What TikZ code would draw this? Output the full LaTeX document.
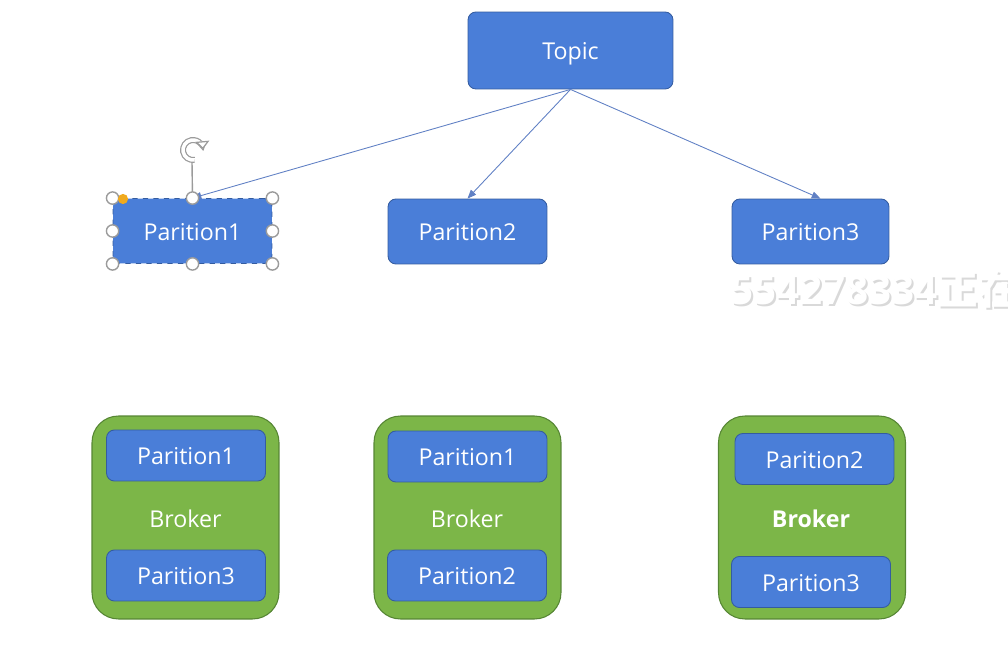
\documentclass[tikz,border=0pt]{standalone}
\usepackage{fontspec}
\setmainfont{Open Sans}
\newfontfamily\cjkfont{Noto Sans CJK SC}
\usetikzlibrary{positioning,arrows.meta}
\definecolor{partfill}{RGB}{74,126,216}
\definecolor{partstroke}{RGB}{52,92,160}
\definecolor{brokerfill}{RGB}{124,182,72}
\definecolor{brokerstroke}{RGB}{86,134,52}
\definecolor{linkblue}{RGB}{96,128,196}
\definecolor{handlegray}{RGB}{155,155,155}
\definecolor{handleorange}{RGB}{240,170,30}

\begin{document}
\begin{tikzpicture}[x=0.02cm, y=-0.02cm,
  label text/.style={text=white, font=\fontsize{13.2}{16}\selectfont,
    text height=1.08em, text depth=0em},
  part/.style={label text, draw=partstroke, fill=partfill, line width=0.5pt,
    rounded corners=4.5pt, minimum width=3.18cm, minimum height=1.3cm,
    inner sep=0pt},
  slot/.style={part, minimum height=1.02cm},
  broker/.style={draw=brokerstroke, fill=brokerfill, line width=0.6pt,
    rounded corners=15pt, minimum width=3.74cm, minimum height=4.06cm},
  brokerlabel/.style={label text},
  link/.style={draw=linkblue, line width=0.5pt,
    -{Triangle[length=5pt,width=4pt]}},
  handle/.style={draw=handlegray, fill=white, line width=0.8pt}]
% page frame, pixel grid of the screenshot
\useasboundingbox (0,0) rectangle (1008,648);
\clip (0,0) rectangle (1008,648);

% top row: the topic and its partitions
\node[part, minimum width=4.1cm, minimum height=1.54cm] (topic) at (570.5,50.5) {Topic};
\node[part, dashed] (p1) at (192.5,231) {Parition1};
\node[part] (p2) at (467.5,231.5) {Parition2};
\node[part, minimum width=3.14cm] (p3) at (810.5,231.5) {Parition3};

\draw[link] (topic.south) -- (p1.north);
\draw[link] (topic.south) -- (p2.north);
\draw[link] (topic.south) -- ([xshift=0.2cm]p3.north);

% selection handles round Parition1
\coordinate (rot) at (193,150);
\draw[draw=handlegray, line width=0.8pt] (192,162) -- (p1.north);
\draw[handlegray, line width=0.7pt, double=white, double distance=2pt,
  -{Triangle[open, fill=white, length=4.5pt, width=8pt]}]
  ([shift={(-80:0.2cm)}]rot) arc[start angle=-80, end angle=-355, radius=0.2cm];
\foreach \a in {north west,north,north east,west,east,south west,south,south east}
  \draw[handle] (p1.\a) circle[radius=3.5pt];
\fill[handleorange] (123,199) circle[radius=2.9pt];

% watermark
\node[anchor=west, text=gray!30, font=\fontsize{23}{27}\bfseries\selectfont]
  (markshadow) at (726,291.5) {554278334{\cjkfont 正在}};
\node[anchor=west, text=white, font=\fontsize{23}{27}\bfseries\selectfont]
  (mark) at (724,289) {554278334{\cjkfont 正在}};

% bottom row: brokers holding partition copies
\node[broker] (b1) at (185.5,517.5) {};
\node[slot] (b1p1) at (186,455.5) {Parition1};
\node[brokerlabel] (b1l) at (185.5,518.5) {Broker};
\node[slot] (b1p3) at (186,575.5) {Parition3};

\node[broker] (b2) at (467.5,517.5) {};
\node[slot] (b2p1) at (467.5,456.5) {Parition1};
\node[brokerlabel] (b2l) at (467,518.5) {Broker};
\node[slot] (b2p2) at (467,575.5) {Parition2};

\node[broker] (b3) at (812,517.5) {};
\node[slot] (b3p2) at (814.5,459) {Parition2};
\node[brokerlabel, font=\fontsize{13.2}{16}\bfseries\selectfont] (b3l) at (811,518.5) {Broker};
\node[slot] (b3p3) at (811,582) {Parition3};
\end{tikzpicture}
\end{document}
